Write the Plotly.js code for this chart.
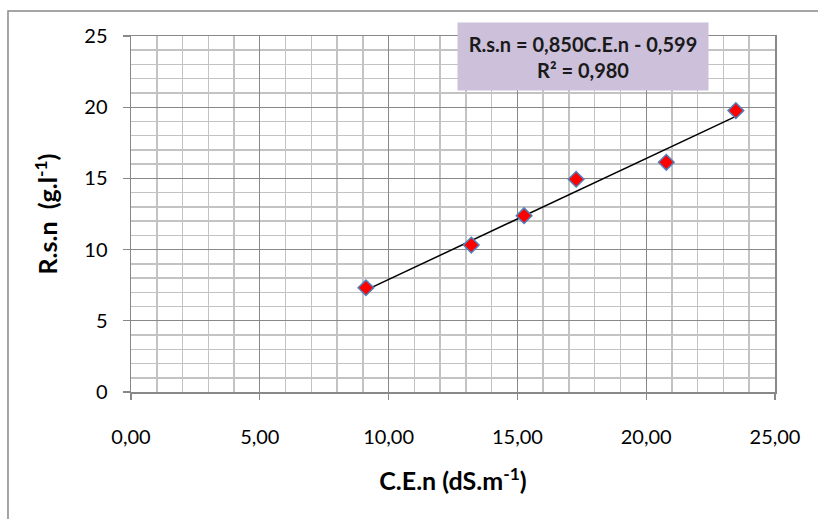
<!DOCTYPE html>
<html>
<head>
<meta charset="utf-8">
<script src="https://cdn.plot.ly/plotly-3.0.1.min.js"></script>
<style>
html,body{margin:0;padding:0;background:#fff;}
#chart{width:818px;height:519px;}
</style>
</head>
<body>
<div id="chart"></div>
<script>
// Data
var ceValues = [9.12, 13.21, 15.26, 17.28, 20.78, 23.48];   // C.E.n (dS.m-1)
var rsnValues = [7.32, 10.32, 12.38, 14.94, 16.13, 19.76];   // R.s.n (g.l-1)
// Trendline coefficients as shown on the chart
var trendSlope = 0.850;
var trendIntercept = -0.599;
var rSquared = 0.980;

var xMin = Math.min.apply(null, ceValues);
var xMax = Math.max.apply(null, ceValues);
var trendX = [xMin, xMax];
var trendY = trendX.map(function (x) { return trendSlope * x + trendIntercept; });

function fmt(v) { return v.toFixed(3).replace('.', ','); }

var font = 'Lato, "Open Sans", "DejaVu Sans", sans-serif';

var traces = [
  {
    x: trendX, y: trendY, type: 'scatter', mode: 'lines',
    line: {color: '#000000', width: 1.5}, hoverinfo: 'skip', showlegend: false
  },
  {
    x: ceValues, y: rsnValues, type: 'scatter', mode: 'markers',
    marker: {symbol: 'diamond', size: 12, color: '#ff0000', line: {color: '#4f81bd', width: 1.5}},
    showlegend: false
  }
];

var layout = {
  width: 818, height: 519,
  margin: {l: 131, r: 43, t: 36, b: 127},
  paper_bgcolor: '#ffffff', plot_bgcolor: '#ffffff',
  separators: ', ',
  font: {family: font, color: '#000000', size: 20},
  showlegend: false,
  xaxis: {
    range: [0, 25], dtick: 5, tick0: 0, tickformat: '.2f',
    showgrid: true, gridcolor: '#888888', gridwidth: 1.2,
    minor: {dtick: 1, showgrid: true, gridcolor: '#c3c3c3', gridwidth: 1.5},
    zeroline: false, showline: true, linecolor: '#888888', linewidth: 1.5, mirror: true,
    ticks: 'outside', ticklen: 6, tickcolor: '#888888', tickwidth: 1.2,
    ticklabelstandoff: 20,
    tickfont: {size: 20, family: font, color: '#000'},
    title: {text: '<b>C.E.n (dS.m<sup>-1</sup>)</b>', font: {size: 25, family: font, color: '#000'}, standoff: 26}
  },
  yaxis: {
    range: [0, 25], dtick: 5, tick0: 0,
    showgrid: true, gridcolor: '#888888', gridwidth: 1.2,
    minor: {dtick: 1, showgrid: true, gridcolor: '#c3c3c3', gridwidth: 1.5},
    zeroline: false, showline: true, linecolor: '#888888', linewidth: 1.5, mirror: true,
    ticks: 'outside', ticklen: 7, tickcolor: '#888888', tickwidth: 1.2,
    ticklabelstandoff: 11,
    tickfont: {size: 20, family: font, color: '#000'},
    title: {text: '<b>R.s.n&nbsp;&nbsp;(g.l<sup>-1</sup>)</b>', font: {size: 25, family: font, color: '#000'}, standoff: 19}
  },
  annotations: [
    {
      xref: 'paper', yref: 'paper', x: 0.702, y: 0.942, xanchor: 'center', yanchor: 'middle',
      text: '<b>R.s.n = ' + fmt(trendSlope) + 'C.E.n - ' + fmt(Math.abs(trendIntercept)) + '<br>R² = ' + fmt(rSquared) + '</b>',
      showarrow: false, bgcolor: '#ccc0da', width: 250, height: 67, borderpad: 0,
      font: {size: 20, family: font, color: '#1a1a1a'}, align: 'center'
    }
  ],
  shapes: [
    {
      type: 'rect', xref: 'paper', yref: 'paper', layer: 'below',
      x0: -0.191, x1: 1.2, y0: -0.5, y1: 1.0702,
      line: {color: '#888888', width: 1.5}, fillcolor: 'rgba(0,0,0,0)'
    }
  ]
};

Plotly.newPlot('chart', traces, layout, {displayModeBar: false, staticPlot: true});
</script>
</body>
</html>
